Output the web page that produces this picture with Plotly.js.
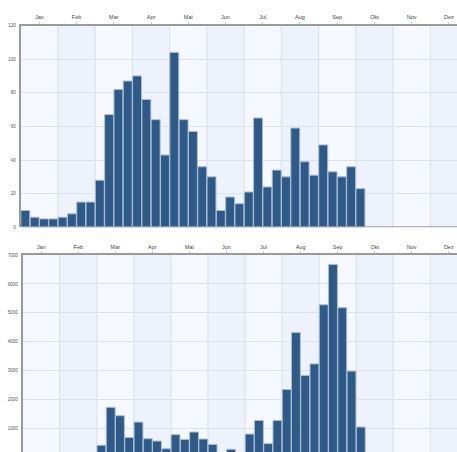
<!DOCTYPE html>
<html>
<head>
<meta charset="utf-8">
<script src="https://cdn.plot.ly/plotly-3.0.1.min.js"></script>
<style>
html,body{margin:0;padding:0;width:457px;height:452px;overflow:hidden;background:#fff;}
#chart{width:480px;height:470px;}
</style>
</head>
<body>
<div id="chart"></div>
<script>
const months = ['Jan','Feb','Mar','Apr','Mai','Jun','Jul','Aug','Sep','Okt','Nov','Dez'];
const topValues = [10,6,5,5,6,8,15,15,28,67,82,87,90,76,64,43,104,64,57,36,30,10,18,14,21,65,24,34,30,59,39,31,49,33,30,36,23];
const bottomValues = [0,0,0,0,0,0,0,0,430,1740,1450,700,1230,655,575,310,795,630,885,645,460,150,290,150,815,1285,485,1285,2355,4320,2840,3240,5280,6670,5180,2990,1060];
const topTicks = [0,20,40,60,80,100,120];
const bottomTicks = [1000,2000,3000,4000,5000,6000,7000];
const barsPerMonth = 4;

const W = 480, H = 470;
const px = v => v / W;
const py = v => (H - v) / H;

const barColor = '#2f5a87';
const edgeColor = '#a9bdd4';

function xs(arr){ return arr.map((_, i) => i + 0.5); }

const traces = [
  {type:'bar', x: xs(topValues), y: topValues, xaxis:'x', yaxis:'y',
   marker:{color:barColor, line:{color:edgeColor, width:1}}, hoverinfo:'skip'},
  {type:'bar', x: xs(bottomValues), y: bottomValues, xaxis:'x2', yaxis:'y2',
   marker:{color:barColor, line:{color:edgeColor, width:1}}, hoverinfo:'skip'}
];

const monthTickVals = months.map((_, m) => m * barsPerMonth + barsPerMonth / 2);
const nx = months.length * barsPerMonth;

function xaxis(domain, anchor){
  return {domain: domain, anchor: anchor, side:'top', range:[0, nx], fixedrange:true,
    tickmode:'array', tickvals: monthTickVals, ticktext: months,
    showgrid:false, zeroline:false, showline:true, linecolor:'#9a9a9a', linewidth:2,
    ticks:'outside', ticklen:2, tickcolor:'#c8c8c8', tickwidth:1,
    tickfont:{family:'Liberation Sans, Arial, sans-serif', size:5.5, color:'#444'}};
}
function yaxis(domain, anchor, ticks, range){
  return {domain: domain, anchor: anchor, range: range, fixedrange:true,
    tickmode:'array', tickvals: ticks, ticktext: ticks.map(String),
    showgrid:true, gridcolor:'#dde1e8', gridwidth:1, zeroline:false,
    showline:true, linecolor:'#9a9a9a', linewidth:2, ticks:'', ticklabelstandoff:2,
    tickfont:{family:'Liberation Sans, Arial, sans-serif', size:4.5, color:'#555'}};
}

const shapes = [];
function addBands(xref, yref, ymax){
  months.forEach((m, i) => {
    shapes.push({type:'rect', xref:xref, yref:yref, layer:'below',
      x0: i*barsPerMonth, x1:(i+1)*barsPerMonth, y0:0, y1:ymax,
      fillcolor: i % 2 === 0 ? '#f5f8fe' : '#edf2fc', line:{width:0}});
    if (i > 0) shapes.push({type:'line', xref:xref, yref:yref, layer:'below',
      x0: i*barsPerMonth, x1: i*barsPerMonth, y0:0, y1:ymax,
      line:{color:'#dadee6', width:1}});
  });
}
addBands('x','y',120);
addBands('x2','y2',7000);
// baseline of top chart
shapes.push({type:'line', xref:'x', yref:'y', x0:0, x1:nx, y0:0, y1:0, layer:'above',
  line:{color:'#a0a0a0', width:2}});

const layout = {
  width: W, height: H,
  margin:{l:0, r:0, t:0, b:0},
  paper_bgcolor:'#ffffff', plot_bgcolor:'rgba(0,0,0,0)',
  showlegend:false, bargap:0.04,
  xaxis: xaxis([px(20.7), px(467.5)], 'y'),
  yaxis: yaxis([py(227.3), py(25.5)], 'x', topTicks, [0,120]),
  xaxis2: xaxis([px(22.7), px(467.3)], 'y2'),
  yaxis2: yaxis([py(457.7), py(255)], 'x2', bottomTicks, [0,7000]),
  shapes: shapes
};

Plotly.newPlot('chart', traces, layout, {displayModeBar:false, staticPlot:true});
</script>
</body>
</html>
